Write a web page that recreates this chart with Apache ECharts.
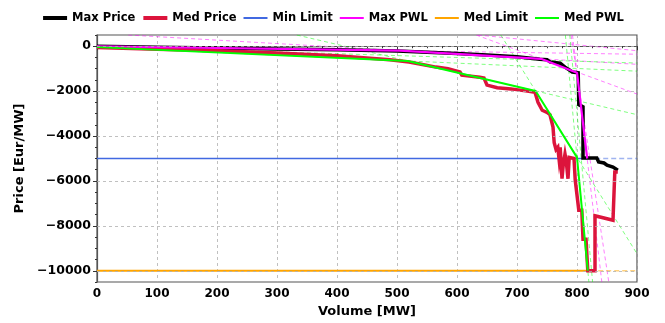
<!DOCTYPE html>
<html><head><meta charset="utf-8">
<script src="https://cdn.jsdelivr.net/npm/echarts@6/dist/echarts.min.js"></script>
<style>html,body{margin:0;padding:0;background:#fff}#c{width:665px;height:323px}</style>
</head><body><div id="c"></div>
<script>
// ---- data ----
const xTicks = [0,100,200,300,400,500,600,700,800,900];
const yTicks = [0,-2000,-4000,-6000,-8000,-10000];

const maxPriceVol   = [0,100,200,300,400,500,600,650,700,738,750,755,772,780,788,792,802,803,810,810,833,836,845,850,860,868];
const maxPriceValue = [0,-40,-80,-120,-160,-210,-320,-390,-470,-578,-600,-700,-760,-930,-1070,-1150,-1180,-2600,-2700,-4980,-4980,-5150,-5200,-5300,-5380,-5520];

const medPriceVol   = [0,100,200,300,400,488,520,540,565,585,605,608,638,645,650,667,690,717,730,733,735,742,750,755,760,762,765,768,770,772,775,777,780,782,785,787,790,795,797,800,803,808,810,815,818,830,830,845,860,863,863,868];
const medPriceValue = [-60,-130,-200,-300,-420,-600,-700,-800,-930,-1000,-1150,-1290,-1380,-1420,-1730,-1850,-1900,-2000,-2050,-2100,-2500,-2850,-2950,-3050,-3600,-4300,-4600,-4500,-5000,-4500,-5900,-5300,-4800,-5100,-5900,-4950,-5000,-5000,-5950,-5950,-7300,-7300,-8600,-8600,-10000,-10000,-7550,-7650,-7750,-7750,-5600,-5600];

const maxPwlVol   = [0,505,740,800,817];
const maxPwlValue = [0,-200,-560,-1180,-5000];
const medPwlVol   = [0,518,731,800,818];
const medPwlValue = [-40,-656,-1990,-4950,-10000];

const minLimit = -5000, minLimitSolidEnd = 817;
const medLimit = -10000, medLimitSolidEnd = 822;
const xEnd = 900;

// dashed extension lines (pairs of end points)
const maxPwlExtVol   = [[0,900],[52,900],[632,900],[792.5,841.4],[790,853],[635,900]];
const maxPwlExtValue = [[0,-356],[500,-806],[500,-2130],[500,-10500],[500,-10500],[500,-200]];
const medPwlExtVol   = [[0,900],[333,900],[673,900],[780.6,819.8],[0,900],[788,826]];
const medPwlExtValue = [[-40,-1110],[500,-3048],[500,-9240],[500,-10500],[0,-750],[500,-10500]];

const legendNames  = ['Max Price','Med Price','Min Limit','Max PWL','Med Limit','Med PWL'];
const legendColors = ['#000000','#DC143C','#4169E1','#FF00FF','#FFA500','#00FF00'];
const legendWidths = [4,4,2,2,2,2];

// ---- build ----
const zip = (a,b)=>a.map((v,i)=>[v,b[i]]);
const FONT = 'DejaVu Sans';
const fmt = v => v < 0 ? '\u2212' + Math.abs(v) : String(v);

const series = [];
series.push({type:'line', data:[], silent:true, z:0,
  markLine:{silent:true, symbol:'none', label:{show:false}, animation:false,
    lineStyle:{type:[3,3], color:'#b0b0b0', width:0.8},
    data: yTicks.map(v=>({yAxis:v}))}});

function dashed(name, vols, vals, color){
  vols.forEach((vv,i)=>{
    series.push({name:name, type:'line', data:zip(vv, vals[i]), symbol:'none', silent:true, clip:true, z:1,
      lineStyle:{color:color, width:1, type:[4,3], opacity:0.5}});
  });
}
dashed('maxPwlExt', maxPwlExtVol, maxPwlExtValue, '#FF00FF');
dashed('medPwlExt', medPwlExtVol, medPwlExtValue, '#00FF00');

series.push({name:'Min Limit', type:'line', data:[[0,minLimit],[minLimitSolidEnd,minLimit]], symbol:'none', z:2,
  color:'#4169E1', lineStyle:{color:'#4169E1', width:1.6}});
series.push({name:'minLimitExt', type:'line', data:[[minLimitSolidEnd,minLimit],[xEnd,minLimit]], symbol:'none', z:2,
  lineStyle:{color:'#4169E1', width:1.4, type:[5,3], opacity:0.5}});
series.push({name:'Med Limit', type:'line', data:[[0,medLimit],[medLimitSolidEnd,medLimit]], symbol:'none', z:2,
  color:'#FFA500', lineStyle:{color:'#FFA500', width:1.8}});
series.push({name:'medLimitExt', type:'line', data:[[medLimitSolidEnd,medLimit],[xEnd,medLimit]], symbol:'none', z:2,
  lineStyle:{color:'#FFA500', width:1.6, type:[5,3], opacity:0.5}});

series.push({name:'Max Price', type:'line', data:zip(maxPriceVol,maxPriceValue), symbol:'none', z:3,
  color:'#000000', lineStyle:{color:'#000000', width:3.5, join:'miter'}});
series.push({name:'Med Price', type:'line', data:zip(medPriceVol,medPriceValue), symbol:'none', z:3,
  color:'#DC143C', lineStyle:{color:'#DC143C', width:3.5, join:'miter'}});
series.push({name:'Max PWL', type:'line', data:zip(maxPwlVol,maxPwlValue), symbol:'none', z:4,
  color:'#FF00FF', lineStyle:{color:'#FF00FF', width:2.2}});
series.push({name:'Med PWL', type:'line', data:zip(medPwlVol,medPwlValue), symbol:'none', z:4,
  color:'#00FF00', lineStyle:{color:'#00FF00', width:2}});

const chart = echarts.init(document.getElementById('c'), null, {renderer:'canvas'});
chart.setOption({
  animation:false,
  backgroundColor:'#fff',
  legend:{
    data: legendNames.map((n,i)=>({name:n, itemStyle:{opacity:0, color:legendColors[i]},
      lineStyle:{color:legendColors[i], width:legendWidths[i], opacity:1}})),
    top:7, left:'center', itemWidth:24, itemHeight:10, itemGap:6,
    textStyle:{fontFamily:FONT, fontWeight:'bold', fontSize:11.5, color:'#000'}
  },
  grid:{left:97, right:28, top:35, bottom:38, show:true, borderColor:'#555', borderWidth:1.2},
  xAxis:{type:'value', min:0, max:900, interval:100,
    name:'Volume [MW]', nameLocation:'middle', nameGap:23,
    nameTextStyle:{fontFamily:FONT, fontWeight:'bold', fontSize:13, color:'#000'},
    axisLine:{lineStyle:{color:'#555', width:1.2}},
    axisTick:{show:true, length:4, lineStyle:{color:'#333'}},
    minorTick:{show:true, splitNumber:4, length:2, lineStyle:{color:'#333'}},
    axisLabel:{fontFamily:FONT, fontWeight:'bold', fontSize:12, color:'#000', margin:6},
    splitLine:{show:true, lineStyle:{type:[3,3], color:'#b0b0b0', width:0.8}}
  },
  yAxis:[{type:'value', min:-10500, max:500, interval:500,
    name:'Price [Eur/MW]', nameLocation:'middle', nameGap:62, nameRotate:90,
    nameTextStyle:{fontFamily:FONT, fontWeight:'bold', fontSize:13, color:'#000'},
    axisLine:{show:true, lineStyle:{color:'#555', width:1.2}},
    axisTick:{show:true, length:2, lineStyle:{color:'#333'}},
    axisLabel:{fontFamily:FONT, fontWeight:'bold', fontSize:12.5, color:'#000', margin:6,
      customValues:yTicks, formatter:fmt},
    splitLine:{show:false}
  },{type:'value', min:-10500, max:500, position:'left',
    axisLine:{show:false}, axisLabel:{show:false}, splitLine:{show:false},
    axisTick:{show:true, length:4, customValues:yTicks, lineStyle:{color:'#333'}}
  }],
  series: series
});
</script></body></html>
